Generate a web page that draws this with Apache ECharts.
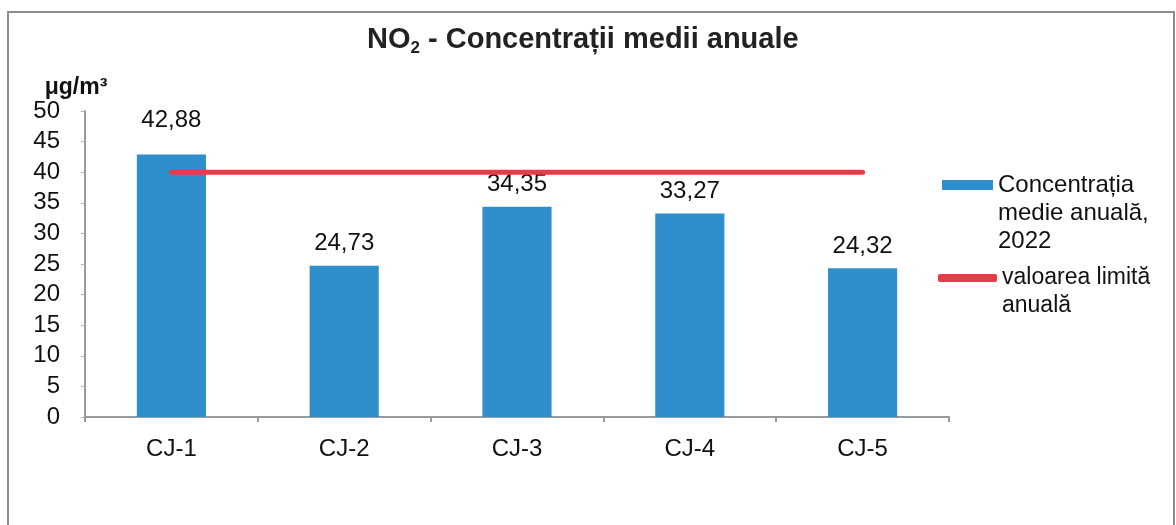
<!DOCTYPE html>
<html>
<head>
<meta charset="utf-8">
<script src="https://cdn.jsdelivr.net/npm/echarts@6/dist/echarts.min.js"></script>
<style>
  html, body { margin: 0; padding: 0; background: #ffffff; }
  #chart { width: 1176px; height: 525px; }
</style>
</head>
<body>
<div id="chart"></div>
<script>
// date
const categories = ['CJ-1', 'CJ-2', 'CJ-3', 'CJ-4', 'CJ-5']
const concentratii = [42.88, 24.73, 34.35, 33.27, 24.32]
const valoareLimita = [40, 40, 40, 40, 40]
const yTicks = [0, 5, 10, 15, 20, 25, 30, 35, 40, 45, 50]

const numeBare = 'Concentrația\nmedie anuală,\n2022'
const numeLinie = 'valoarea limită\nanuală'

const font = 'Liberation Sans, Arial, sans-serif'
const albastru = '#2e8fcc'
const rosu = '#e63c4a'

const chart = echarts.init(document.getElementById('chart'))

// virgula ca separator zecimal
const fmt = v => v.toFixed(2).replace('.', ',')

// legenda: simbolul aliniat cu primul rand -> randuri goale deasupra
const sus = name => '\n'.repeat(name.split('\n').length - 1) + name

const bareData = concentratii.map((v, i) => {
  // eticheta primei bare e mai sus, peste linia rosie
  if (i === 0) return { value: v, label: { distance: 22 } }
  return v
})

const legendText = { fontFamily: font, fontSize: 24, color: '#111', lineHeight: 28 }

const option = {
  backgroundColor: '#ffffff',
  animation: false,
  textStyle: { fontFamily: font },
  title: {
    text: '{a|NO}{s|2}{a| - Concentrații medii anuale}',
    left: 362,
    top: 18,
    textStyle: {
      rich: {
        a: { fontFamily: font, fontSize: 29, fontWeight: 'bold', color: '#222', lineHeight: 34 },
        s: { fontFamily: font, fontSize: 17, fontWeight: 'bold', color: '#222', verticalAlign: 'bottom', lineHeight: 14 }
      }
    }
  },
  grid: { left: 85, right: 227, top: 111, bottom: 108 },
  legend: [
    {
      data: [{ name: numeBare, icon: 'rect' }],
      formatter: sus,
      orient: 'vertical',
      left: 942,
      top: 115,
      padding: 0,
      itemWidth: 51,
      itemHeight: 10,
      itemGap: 0,
      textStyle: legendText
    },
    {
      data: [{ name: numeLinie, icon: 'roundRect' }],
      formatter: sus,
      orient: 'vertical',
      left: 938,
      top: 236,
      padding: 0,
      itemWidth: 59,
      itemHeight: 8,
      itemGap: 0,
      textStyle: { ...legendText, fontSize: 23 }
    }
  ],
  xAxis: {
    type: 'category',
    data: categories,
    axisLine: { lineStyle: { color: '#9a9a9a', width: 2 } },
    axisTick: { show: true, length: 5, lineStyle: { color: '#9a9a9a', width: 2 } },
    axisLabel: { fontFamily: font, fontSize: 24, color: '#111', margin: 20 }
  },
  yAxis: {
    type: 'value',
    min: yTicks[0],
    max: yTicks[yTicks.length - 1],
    interval: yTicks[1] - yTicks[0],
    name: 'μg/m³',
    nameLocation: 'end',
    nameGap: 12,
    nameTextStyle: { fontFamily: font, fontSize: 23, fontWeight: 'bold', color: '#111', padding: [0, 18, 0, 0] },
    splitLine: { show: false },
    axisLine: { show: true, lineStyle: { color: '#9a9a9a', width: 2 } },
    axisTick: { show: true, length: 4, lineStyle: { color: '#b0b0b0' } },
    axisLabel: { fontFamily: font, fontSize: 24, color: '#111', margin: 25 }
  },
  series: [
    {
      name: numeBare,
      type: 'bar',
      data: bareData,
      barWidth: '40%',
      itemStyle: { color: albastru },
      label: {
        show: true,
        position: 'top',
        distance: 10,
        fontFamily: font,
        fontSize: 24,
        color: '#111',
        formatter: p => fmt(p.value)
      }
    },
    {
      name: numeLinie,
      type: 'line',
      data: valoareLimita,
      symbol: 'none',
      lineStyle: { color: rosu, width: 5, cap: 'round' },
      itemStyle: { color: rosu }
    }
  ],
  graphic: [
    {
      type: 'rect',
      shape: { x: 8, y: 12, width: 1166, height: 530 },
      style: { fill: 'none', stroke: '#8c8c8c', lineWidth: 2 },
      silent: true
    }
  ]
}

chart.setOption(option)
</script>
</body>
</html>
